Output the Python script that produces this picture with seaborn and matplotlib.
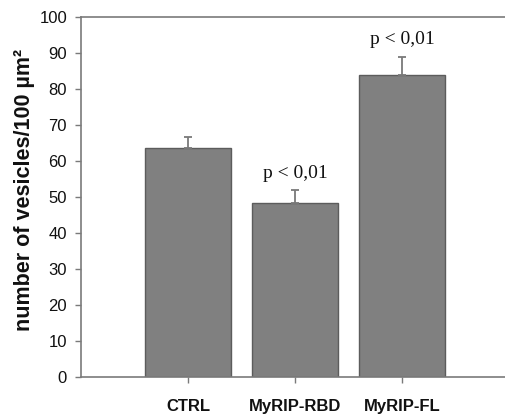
import matplotlib
matplotlib.use("Agg")
import matplotlib.pyplot as plt
import seaborn as sns
import pandas as pd

# Vesicle density per condition (mean and upper SEM)
categories = ["CTRL", "MyRIP-RBD", "MyRIP-FL"]
means = [63.6, 48.4, 83.9]
errors = [3.2, 3.5, 5.1]
significance = ["", "p < 0,01", "p < 0,01"]
yticks = [0, 10, 20, 30, 40, 50, 60, 70, 80, 90, 100]

sns.set_style("white")
plt.rcParams["font.family"] = ["Liberation Sans", "DejaVu Sans"]

df = pd.DataFrame({"condition": categories, "vesicles": means})

fig = plt.figure(figsize=(5.06, 4.16), dpi=100)
ax = fig.add_axes([81 / 506, 1 - 377 / 416, 428 / 506, 360 / 416])

sns.barplot(data=df, x="condition", y="vesicles", color="#808080",
            saturation=1, width=0.8, edgecolor="#5c5c5c", linewidth=1.0,
            errorbar=None, ax=ax)

# upper-only error bars
ax.errorbar(range(len(categories)), means,
            yerr=[[0] * len(errors), errors], fmt="none",
            ecolor="#7a7a7a", elinewidth=1.3, capsize=3, capthick=1.3)

for i, (m, e, s) in enumerate(zip(means, errors, significance)):
    if s:
        ax.text(i, m + e + 3.5, s, ha="center", va="baseline",
                fontsize=14, family="Liberation Serif", color="#111111")

ax.set_xlim(-1, 3)
ax.set_ylim(0, 100)
ax.set_yticks(yticks)
ax.set_yticklabels([str(t) for t in yticks], fontsize=12, color="#111111")
ax.set_xticks(range(len(categories)))
ax.set_xticklabels(categories, fontsize=12, fontweight="bold", color="#111111")
ax.set_xlabel("")
ax.set_ylabel("number of vesicles/100 µm²", fontsize=15.5, fontweight="bold",
              color="#111111")
ax.yaxis.set_label_coords(-0.108, 0.52)

for side in ["left", "bottom", "top", "right"]:
    ax.spines[side].set_color("#7a7a7a")
    ax.spines[side].set_linewidth(1.2)
ax.spines["right"].set_visible(False)

ax.tick_params(axis="y", direction="out", length=4, width=1, color="#7a7a7a",
               pad=6, left=True)
ax.tick_params(axis="x", direction="out", length=4, width=1, color="#7a7a7a",
               pad=12, bottom=True)

fig.savefig("out.png", dpi=100)
